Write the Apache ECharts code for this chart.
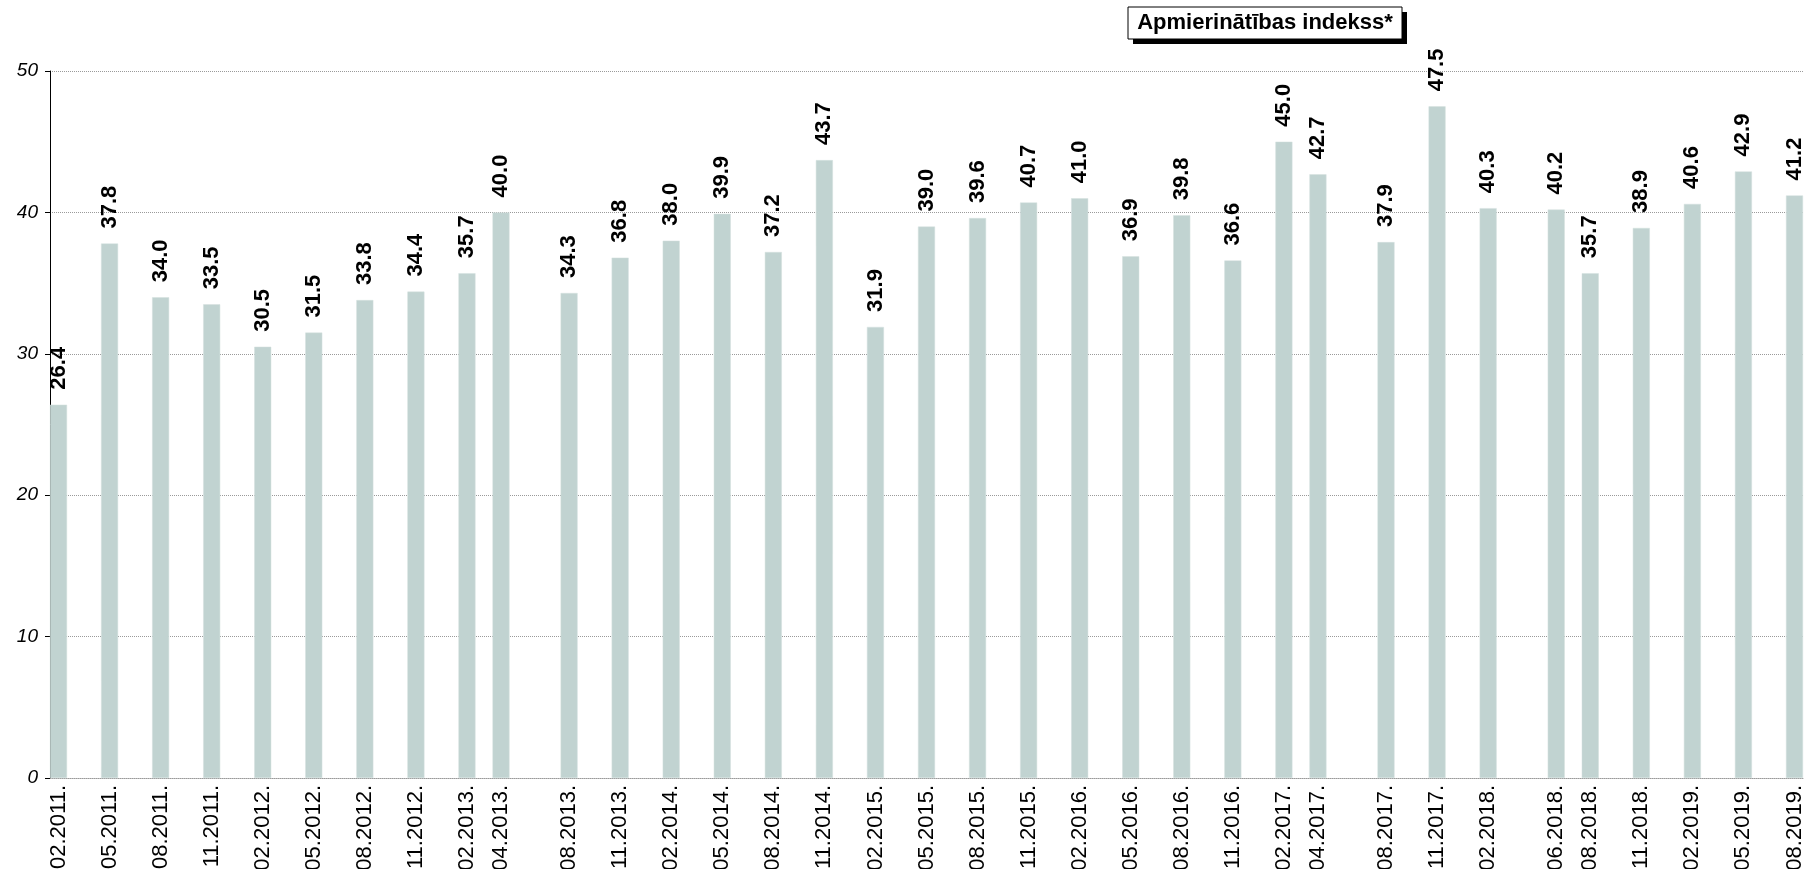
<!DOCTYPE html>
<html>
<head>
<meta charset="utf-8">
<title>Apmierinātības indekss</title>
<script src="https://cdn.jsdelivr.net/npm/echarts@6/dist/echarts.min.js"></script>
<style>
    html, body { margin: 0; padding: 0; background: #fff; }
    #chart { width: 1807px; height: 869px; }
</style>
</head>
<body>
<div id="chart"></div>
<script>
    // survey months (MM.YYYY.) and index values
    var surveyMonths = ['02.2011.', '05.2011.', '08.2011.', '11.2011.', '02.2012.', '05.2012.', '08.2012.',
        '11.2012.', '02.2013.', '04.2013.', '08.2013.', '11.2013.', '02.2014.', '05.2014.', '08.2014.',
        '11.2014.', '02.2015.', '05.2015.', '08.2015.', '11.2015.', '02.2016.', '05.2016.', '08.2016.',
        '11.2016.', '02.2017.', '04.2017.', '08.2017.', '11.2017.', '02.2018.', '06.2018.', '08.2018.',
        '11.2018.', '02.2019.', '05.2019.', '08.2019.'];
    var indexValues = [26.4, 37.8, 34.0, 33.5, 30.5, 31.5, 33.8,
        34.4, 35.7, 40.0, 34.3, 36.8, 38.0, 39.9, 37.2,
        43.7, 31.9, 39.0, 39.6, 40.7, 41.0, 36.9, 39.8,
        36.6, 45.0, 42.7, 37.9, 47.5, 40.3, 40.2, 35.7,
        38.9, 40.6, 42.9, 41.2];
    var titleText = 'Apmierinātības indekss*';

    // month-by-month axis so that bars sit at their real time position
    var allMonths = [];
    for (var y = 2011, m = 2; y < 2019 || (y === 2019 && m <= 8);) {
        allMonths.push((m < 10 ? '0' : '') + m + '.' + y + '.');
        m++;
        if (m > 12) { m = 1; y++; }
    }
    var lookup = {};
    surveyMonths.forEach(function (k, i) { lookup[k] = indexValues[i]; });
    var barData = allMonths.map(function (k) { return lookup[k] === undefined ? null : lookup[k]; });

    var font = '"Liberation Sans", Arial, sans-serif';
    var chart = echarts.init(document.getElementById('chart'));
    chart.setOption({
        animation: false,
        textStyle: {fontFamily: font},
        grid: {left: 50, right: 4, top: 71, bottom: 91, outerBoundsMode: 'none', containLabel: false},
        graphic: [
            {type: 'rect', shape: {x: 1133, y: 12, width: 274, height: 32}, style: {fill: '#000'}},
            {type: 'rect', shape: {x: 1128, y: 7, width: 274, height: 32}, style: {fill: '#fff', stroke: '#000', lineWidth: 1}},
            {
                type: 'text', x: 1265, y: 23,
                style: {text: titleText, fill: '#000', font: 'bold 22px ' + font, align: 'center', verticalAlign: 'middle'}
            }
        ],
        xAxis: {
            type: 'category', data: allMonths, boundaryGap: true,
            axisLine: {show: true, lineStyle: {color: '#9a9a9a', type: 'dotted', width: 1}},
            axisTick: {show: false},
            axisLabel: {
                rotate: 90, margin: 7, color: '#000', fontSize: 22, fontFamily: font,
                interval: function (i, v) { return lookup[v] !== undefined; }
            },
            splitLine: {show: false}
        },
        yAxis: {
            type: 'value', min: 0, max: 50, interval: 10,
            axisLine: {show: true, lineStyle: {color: '#000', width: 1}},
            axisTick: {show: true, length: 5, lineStyle: {color: '#000'}},
            axisLabel: {color: '#000', fontSize: 19, fontStyle: 'italic', margin: 12, fontFamily: font},
            splitLine: {show: true, lineStyle: {color: '#9a9a9a', type: 'dotted', width: 1}}
        },
        series: [{
            type: 'bar', data: barData, barCategoryGap: '0%',
            itemStyle: {color: '#c1d3d1', borderColor: '#d4e1df', borderWidth: 0.5},
            label: {
                show: true, position: 'top', rotate: 90, align: 'left', verticalAlign: 'middle', distance: 15,
                fontSize: 22, fontWeight: 'bold', color: '#000', fontFamily: font,
                formatter: function (p) { return p.value.toFixed(1); }
            }
        }]
    });
</script>
</body>
</html>
